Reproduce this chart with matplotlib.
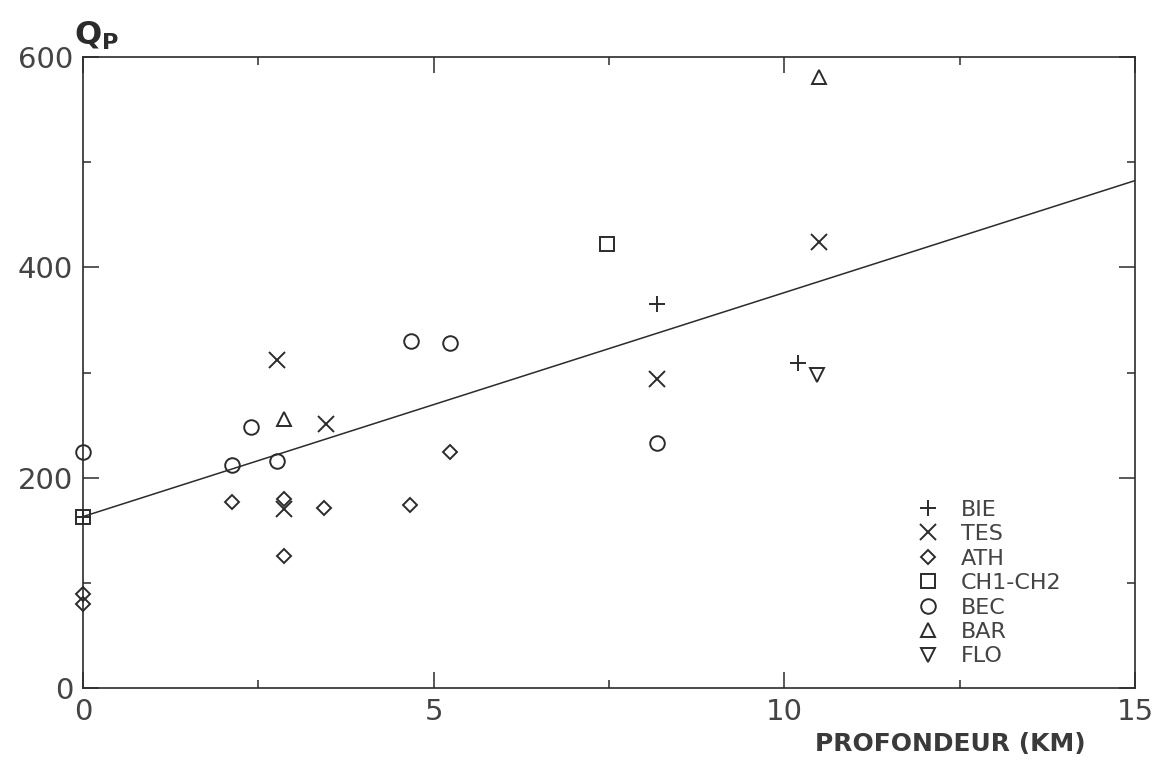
import numpy as np
import matplotlib.pyplot as plt

# depth (km) and Qp values per station group
bie_x = [0.0, 8.19, 10.2]
bie_y = [163, 365, 309]
tes_x = [2.77, 3.46, 2.86, 8.19, 10.49]
tes_y = [312, 251, 170, 294, 424]
ath_x = [0.0, 0.0, 2.13, 2.86, 2.86, 3.44, 4.66, 5.23]
ath_y = [89, 80, 177, 180, 126, 171, 174, 224]
ch_x = [0.0, 7.47]
ch_y = [163, 422]
bec_x = [0.0, 2.4, 2.13, 2.77, 4.68, 5.24, 8.19]
bec_y = [224, 248, 212, 216, 330, 328, 233]
bar_x = [2.86, 10.5]
bar_y = [256, 581]
flo_x = [10.47]
flo_y = [298]

# regression line
fit_intercept = 163
fit_slope = 21.3

ink = "#2b2b2b"
txt = "#444444"

fig = plt.figure(figsize=(11.57, 7.77), dpi=100)
ax = fig.add_axes([0.0717, 0.1145, 0.9093, 0.8121])

xx = np.array([0, 15])
ax.plot(xx, fit_intercept + fit_slope * xx, color=ink, lw=1.1)

groups = [
    (bie_x, bie_y, "+", 12, "BIE"),
    (tes_x, tes_y, "x", 11, "TES"),
    (ath_x, ath_y, "D", 7.5, "ATH"),
    (ch_x, ch_y, "s", 9.5, "CH1-CH2"),
    (bec_x, bec_y, "o", 10.5, "BEC"),
    (bar_x, bar_y, "^", 10, "BAR"),
    (flo_x, flo_y, "v", 10, "FLO"),
]
for gx, gy, m, ms, lab in groups:
    ax.plot(gx, gy, linestyle="none", marker=m, markersize=ms, mfc="none",
            mec=ink, mew=1.4, label=lab, clip_on=False)

ax.set_xlim(0, 15)
ax.set_ylim(0, 600)
ax.set_xticks([0, 5, 10, 15])
ax.set_xticks([2.5, 7.5, 12.5], minor=True)
ax.set_yticks([0, 200, 400, 600])
ax.set_yticks([100, 300, 500], minor=True)
ax.tick_params(which="both", direction="in", top=True, right=True,
               color=ink, width=1.1)
ax.tick_params(which="major", length=11.5)
ax.tick_params(which="minor", length=6)
ax.tick_params(axis="x", which="major", labelsize=21, labelcolor=txt, pad=7)
ax.tick_params(axis="y", which="major", labelsize=21, labelcolor=txt, pad=7)
for s in ax.spines.values():
    s.set_color(ink)
    s.set_linewidth(1.2)

leg = ax.legend(loc="upper left", bbox_to_anchor=(0.782, 0.316), frameon=False,
                fontsize=16, handlelength=1.0, handletextpad=1.0,
                labelspacing=0.2, borderpad=0, numpoints=1)
for t in leg.get_texts():
    t.set_color(txt)

fig.text(0.064, 0.943, r"$\mathbf{Q_P}$", fontsize=23, color=ink)
fig.text(0.938, 0.033, "PROFONDEUR (KM)", fontsize=18, fontweight="bold",
         color="#3a3a3a", ha="right")

fig.savefig("out.png", dpi=100)
